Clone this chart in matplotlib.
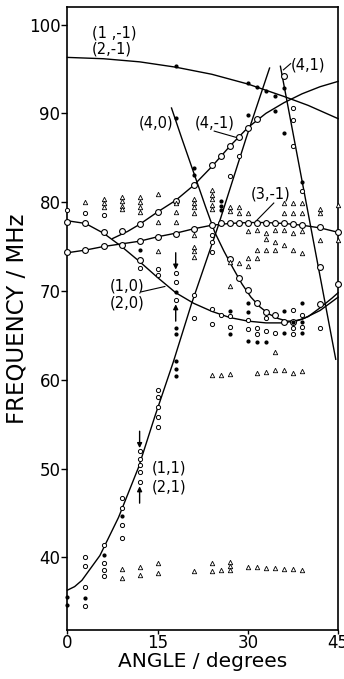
"""
Frequency vs angle plot: fitted curves for the (n,m) branches plus the
measured resonance points (circles, dots, triangles).
"""

import matplotlib
matplotlib.use("Agg")
import matplotlib.pyplot as plt

# Fitted curves (angle in degrees, frequency in MHz)
c1m_x = [0, 6, 12, 18, 24, 30, 36, 40, 45]
c1m_y = [96.3, 96.15, 95.8, 95.2, 94.4, 93.3, 91.9, 90.9, 89.4]

c4m_x = [7.5, 10, 12, 15, 18, 21, 24, 27, 30, 33, 36, 39, 42, 45]
c4m_y = [75.9, 76.7, 77.5, 78.9, 80.2, 81.9, 84.0, 86.3, 88.4, 90.0, 91.2, 92.2, 93.0, 93.6]

c3m_x = [0, 3, 6, 9, 12, 15, 18, 21, 24, 27, 30, 33, 36, 39, 42, 45]
c3m_y = [74.3, 74.6, 75.0, 75.3, 75.6, 76.1, 76.5, 77.0, 77.4, 77.6, 77.7, 77.7, 77.6, 77.4, 77.1, 76.6]

c10_x = [0, 3, 6, 9, 12, 15, 18, 21, 24, 27, 30, 33, 36, 39, 42, 45]
c10_y = [77.9, 77.6, 76.5, 75.0, 73.3, 71.5, 69.8, 68.6, 67.7, 67.0, 66.6, 66.4, 66.4, 66.8, 67.8, 69.3]

c40_x = [17.3, 19, 21, 23, 24.5, 26, 27.5, 29, 30.5, 32, 33.5, 35, 36.5, 38, 40, 42, 44, 45]
c40_y = [90.6, 87.2, 83.3, 79.4, 76.6, 74.5, 72.6, 70.8, 69.3, 68.2, 67.4, 66.9, 66.6, 66.6, 67.1, 68.1, 69.2, 69.8]

c11_x = [0, 1.2, 2.4, 5.4, 8.5, 11.8, 14.5, 17.6, 20.6, 25, 29.7, 33.6]
c11_y = [36.3, 36.7, 37.4, 40.2, 44.5, 50.1, 55.8, 62.0, 68.5, 77.2, 87.2, 95.1]

c41_x = [35.4, 44.6]
c41_y = [95.3, 62.3]

# Measured points
big_circles = [
    (0, 77.8), (0, 74.4), (3, 77.6), (3, 74.6), (6, 76.6), (6, 75.1),
    (9, 76.7), (9, 75.2), (12, 77.5), (12, 75.6), (12, 73.5),
    (15, 78.9), (15, 76.1), (18, 80.1), (18, 76.4), (21, 81.9), (21, 77.0),
    (24, 84.2), (24, 77.4), (25.5, 85.2), (25.5, 77.6),
    (27, 86.3), (27, 77.7), (27, 73.6), (28.5, 87.3), (28.5, 77.7), (28.5, 71.4),
    (30, 88.3), (30, 77.7), (30, 70.1), (31.5, 89.4), (31.5, 77.7), (31.5, 68.6),
    (33, 77.7), (33, 67.6), (34.5, 77.7), (34.5, 67.3), (36, 77.6), (36, 94.2),
    (36, 66.5), (37.5, 77.5), (37.5, 66.5), (39, 77.4), (42, 77.2), (42, 72.7),
    (42, 68.5), (45, 76.6), (45, 70.8),
]
small_circles = [
    (0, 79.1), (3, 78.8), (3, 40.0), (3, 39.0), (3, 36.7), (3, 34.5),
    (6, 78.5), (6, 41.4), (6, 39.4), (6, 38.6), (6, 37.9),
    (9, 46.7), (9, 45.6), (9, 43.6), (9, 42.2),
    (12, 72.6), (12, 52.0), (12, 51.1), (12, 50.4), (12, 49.6), (12, 48.5),
    (15, 72.5), (15, 71.8), (15, 58.8), (15, 58.0), (15, 56.9), (15, 55.8), (15, 54.7),
    (18, 72.0), (18, 71.0), (18, 69.0), (21, 69.5), (21, 66.9),
    (24, 76.3), (24, 75.5), (24, 74.4), (24, 68.0), (24, 66.3), (25.5, 67.3),
    (27, 82.9), (27, 65.9), (27, 67.2), (28.5, 85.2), (30, 66.7), (30, 65.7),
    (31.5, 65.8), (31.5, 65.1), (33, 66.9), (33, 65.5), (34.5, 65.3),
    (37.5, 67.9), (37.5, 65.8), (37.5, 65.2), (37.5, 90.6), (37.5, 89.3), (37.5, 86.3),
    (39, 67.3), (39, 65.9), (39, 81.2), (42, 65.8),
]
dots = [
    (0, 35.5), (0, 34.6), (3, 35.4), (6, 40.3), (9, 44.7), (12, 74.6),
    (18, 95.3), (18, 89.5), (18, 69.9), (18, 65.8), (18, 65.1),
    (18, 62.1), (18, 61.2), (18, 60.4), (21, 83.8), (21, 83.1),
    (25.5, 80.1), (25.5, 79.6), (25.5, 79.1), (27, 67.7), (27, 65.1),
    (30, 93.4), (30, 89.8), (30, 68.6), (30, 67.6), (30, 64.4),
    (31.5, 93.0), (31.5, 64.3), (33, 92.5), (33, 64.3), (34.5, 92.0), (34.5, 90.3),
    (36, 92.9), (36, 67.7), (36, 65.3), (36, 87.8), (37.5, 66.5),
    (39, 82.3), (39, 68.6), (39, 66.5), (39, 65.3),
]
triangles = [
    (3, 80.0), (6, 80.4), (6, 79.9), (6, 79.4),
    (9, 80.6), (9, 80.1), (9, 79.6), (9, 79.2), (9, 38.7), (9, 37.7),
    (12, 80.6), (12, 80.0), (12, 79.4), (12, 78.9), (12, 38.9), (12, 38.0),
    (15, 80.9), (15, 77.8), (15, 74.5), (15, 39.4), (15, 38.2),
    (18, 79.9), (18, 78.9), (18, 77.8),
    (21, 80.4), (21, 79.9), (21, 79.4), (21, 78.8), (21, 76.3), (21, 75.0),
    (21, 74.5), (21, 73.8), (21, 38.5),
    (24, 81.4), (24, 80.8), (24, 80.3), (24, 79.7), (24, 79.2), (24, 60.5),
    (24, 39.4), (24, 38.5), (25.5, 60.5), (25.5, 38.6),
    (27, 79.5), (27, 79.0), (27, 73.3), (27, 70.5), (27, 60.7), (27, 39.5),
    (27, 39.0), (27, 38.6), (28.5, 79.5), (28.5, 78.8), (28.5, 73.1),
    (30, 78.8), (30, 76.7), (30, 73.7), (30, 72.8), (30, 38.9),
    (31.5, 76.9), (31.5, 74.6), (31.5, 73.7), (31.5, 60.8), (31.5, 38.9),
    (33, 76.5), (33, 75.8), (33, 74.6), (33, 60.9), (33, 38.8),
    (34.5, 76.9), (34.5, 75.5), (34.5, 74.6), (34.5, 63.1), (34.5, 61.1), (34.5, 38.8),
    (36, 79.9), (36, 78.8), (36, 76.9), (36, 75.2), (36, 61.1), (36, 38.7),
    (37.5, 79.9), (37.5, 78.8), (37.5, 76.5), (37.5, 74.6), (37.5, 60.8), (37.5, 38.7),
    (39, 79.9), (39, 78.8), (39, 76.7), (39, 74.3), (39, 61.0), (39, 38.6),
    (42, 79.2), (42, 78.8), (42, 75.7), (45, 79.7), (45, 75.7),
]

plt.rcParams["font.family"] = "DejaVu Sans"

fig = plt.figure(figsize=(3.44, 6.79), dpi=100)
ax = fig.add_axes([0.196, 0.072, 0.787, 0.918])

# Curves
for cx, cy in [(c1m_x, c1m_y), (c4m_x, c4m_y), (c3m_x, c3m_y), (c10_x, c10_y),
               (c40_x, c40_y), (c11_x, c11_y), (c41_x, c41_y)]:
    ax.plot(cx, cy, color="black", lw=1.0, zorder=2, clip_on=False)

# Points
def unzip(pts):
    return [p[0] for p in pts], [p[1] for p in pts]

x, y = unzip(big_circles)
ax.plot(x, y, "o", ms=4.2, mfc="white", mec="black", mew=0.8, zorder=3, clip_on=False)
x, y = unzip(small_circles)
ax.plot(x, y, "o", ms=3.0, mfc="white", mec="black", mew=0.7, zorder=3, clip_on=False)
x, y = unzip(dots)
ax.plot(x, y, "o", ms=2.0, color="black", zorder=4, clip_on=False)
x, y = unzip(triangles)
ax.plot(x, y, "^", ms=3.2, mfc="white", mec="black", mew=0.6, zorder=3, clip_on=False)

# Labels for the branches
fs = 10.5
ax.text(4.1, 99.0, "(1 ,-1)", fontsize=fs, va="center", ha="left")
ax.text(4.1, 97.3, "(2,-1)", fontsize=fs, va="center", ha="left")
ax.text(17.6, 88.9, "(4,0)", fontsize=fs, va="center", ha="right")
ax.text(21.2, 88.9, "(4,-1)", fontsize=fs, va="center", ha="left")
ax.plot([24.4, 28.0], [88.0, 87.3], color="black", lw=0.8)
ax.text(37.2, 95.5, "(4,1)", fontsize=fs, va="center", ha="left")
ax.plot([35.9, 37.1], [94.9, 95.6], color="black", lw=0.8)
ax.text(30.4, 80.9, "(3,-1)", fontsize=fs, va="center", ha="left")
ax.plot([34.3, 31.4], [79.9, 77.9], color="black", lw=0.8)
ax.text(7.0, 70.5, "(1,0)", fontsize=fs, va="center", ha="left")
ax.text(7.0, 68.6, "(2,0)", fontsize=fs, va="center", ha="left")
ax.plot([12.3, 16.2], [69.9, 70.5], color="black", lw=0.8)
ax.text(14.0, 50.1, "(1,1)", fontsize=fs, va="center", ha="left")
ax.text(14.0, 47.9, "(2,1)", fontsize=fs, va="center", ha="left")

arrow = dict(arrowstyle="-|>", color="black", lw=1.0, mutation_scale=7,
             shrinkA=0, shrinkB=0)
ax.annotate("", xy=(18, 72.4), xytext=(18, 74.3), arrowprops=arrow)
ax.annotate("", xy=(18, 68.5), xytext=(18, 66.6), arrowprops=arrow)
ax.annotate("", xy=(12, 52.3), xytext=(12, 54.2), arrowprops=arrow)
ax.annotate("", xy=(12, 48.0), xytext=(12, 46.1), arrowprops=arrow)

# Axes
ax.set_xlim(0, 45)
ax.set_ylim(31.8, 102.0)
ax.set_xticks([0, 15, 30, 45])
ax.set_yticks([40, 50, 60, 70, 80, 90, 100])
ax.tick_params(direction="out", length=4, width=1.0, labelsize=12)
ax.tick_params(axis="x", pad=0, length=3)
ax.tick_params(axis="y", pad=1)
for s in ax.spines.values():
    s.set_linewidth(1.2)
ax.set_xlabel("ANGLE / degrees", fontsize=14.5, labelpad=0)
ax.set_ylabel("FREQUENCY / MHz", fontsize=16.5, labelpad=0)

fig.savefig("out.png", dpi=100)
